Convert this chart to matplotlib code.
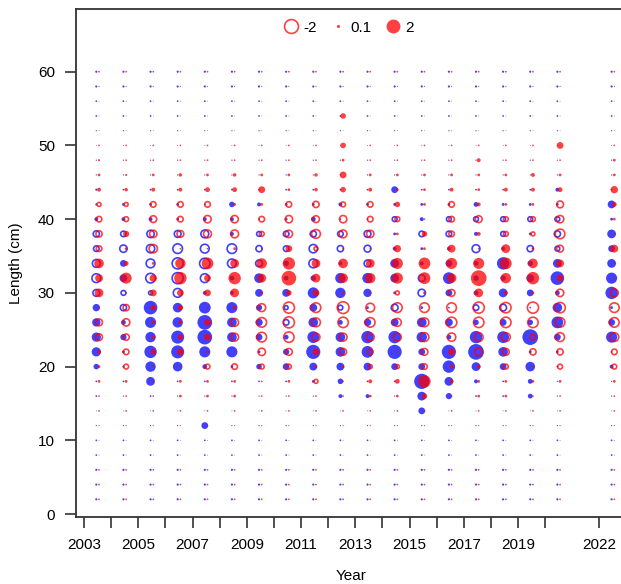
import numpy as np
import matplotlib
matplotlib.use("Agg")
import matplotlib.pyplot as plt
from matplotlib.lines import Line2D

plt.rcParams['font.family'] = ['Liberation Sans', 'DejaVu Sans']

# years with length comps (no 2021)
years = [2003, 2004, 2005, 2006, 2007, 2008, 2009, 2010, 2011, 2012,
         2013, 2014, 2015, 2016, 2017, 2018, 2019, 2020, 2022]
tick_labels = ['2003', '', '2005', '', '2007', '', '2009', '', '2011', '',
               '2013', '', '2015', '', '2017', '', '2019', '', '2022']

len_low = [2, 4, 6, 8, 10, 12, 14]
len_mid = [16, 18, 20, 22, 24, 26, 28, 30, 32, 34, 36, 38, 40, 42, 44, 46, 48]
len_high = [50, 52, 54, 56, 58, 60]

# near-zero residuals in the tails (same in every year)
male_low = [0.03, 0.03, 0.03, 0.02, 0.02, 0.01, 0.005]
female_low = [0.02, 0.02, 0.02, 0.005, 0.005, 0.01, 0.02]
male_high = [0.005, 0.01, 0.02, 0.02, 0.03, 0.03]
female_high = [0.02, 0.005, 0.005, 0.005, 0.01, 0.02]

# pearson residuals, lengths 16..48, one row per year
male_mid = [
    [0.02, 0.02, 0.2, 0.55, 0.55, 0.45, 0.35, -0.3, -0.5, -0.4, -0.2, -0.25, 0.1, 0.03, 0.03, 0.01, 0.01],
    [0.01, 0.02, 0.03, 0.05, 0.25, 0.15, -0.25, -0.15, 0.4, 0.3, -0.35, -0.2, 0.1, 0.05, 0.02, 0.01, 0.01],
    [0.02, 0.5, 0.7, 1.0, 0.7, 0.8, 1.2, -0.1, -0.6, -0.5, -0.45, -0.35, 0.1, 0.05, 0.02, 0.01, 0.01],
    [0.01, 0.02, 0.6, 1.1, 1.1, 0.7, 0.6, -0.5, -0.8, -0.8, -0.6, -0.3, 0.05, 0.05, 0.02, 0.01, 0.01],
    [0.01, 0.02, 0.15, 0.8, 1.4, 1.4, 0.9, 0.1, -0.5, -0.7, -0.5, -0.4, 0.1, 0.02, 0.02, 0.01, 0.01],
    [0.01, 0.02, 0.05, 0.8, 0.6, 0.6, 0.8, 0.1, 0.15, -0.5, -0.6, 0.1, 0.1, 0.2, 0.02, 0.01, 0.01],
    [0.01, 0.02, 0.2, 0.05, 0.3, 0.35, 0.25, 0.4, 0.6, -0.3, -0.25, -0.15, 0.02, 0.1, 0.02, 0.01, 0.01],
    [0.01, 0.02, 0.3, 0.25, 0.15, -0.2, -0.1, 0.4, 0.15, 0.2, -0.2, -0.2, 0.05, 0.05, 0.02, 0.01, 0.01],
    [0.01, 0.05, 0.4, 1.3, 0.9, 0.6, 0.4, 0.8, 0.2, -0.5, -0.45, -0.25, 0.15, 0.05, 0.02, 0.01, 0.01],
    [0.1, 0.2, 0.4, 0.6, 0.6, 0.15, -0.15, 0.7, 0.7, 0.1, -0.25, -0.2, 0.02, 0.1, 0.02, 0.01, 0.01],
    [0.1, 0.02, 0.4, 0.9, 1.0, 0.35, 0.05, 0.45, 0.7, -0.3, -0.3, -0.3, 0.02, 0.05, 0.02, 0.01, 0.01],
    [0.01, 0.02, 0.3, 1.3, 1.0, 0.4, -0.3, 0.05, 0.5, 0.5, 0.1, 0.05, -0.15, 0.05, 0.3, 0.01, 0.01],
    [0.5, 1.5, 0.3, 0.3, 0.7, 0.6, 0.05, -0.35, -0.3, 0.1, 0.05, -0.2, 0.1, 0.05, 0.02, 0.01, 0.01],
    [0.25, 0.5, 1.0, 1.3, 0.15, 0.4, 0.02, 0.3, 0.9, 0.3, 0.1, -0.2, -0.15, 0.05, 0.02, 0.01, 0.01],
    [0.02, 0.1, 0.5, 1.6, 1.0, 0.2, -0.2, 0.15, 0.2, 0.15, -0.4, 0.1, -0.15, 0.15, 0.02, 0.01, 0.01],
    [0.02, 0.02, 0.3, 0.6, 0.9, 0.3, -0.3, 0.5, 0.2, 1.0, 0.1, -0.15, -0.15, 0.05, 0.02, 0.01, 0.01],
    [0.15, 0.15, 0.6, 0.05, 1.6, 0.2, 0.02, 0.3, 0.4, 0.2, -0.25, 0.05, -0.15, 0.05, 0.02, 0.01, 0.01],
    [0.01, 0.01, 0.02, 0.05, 0.3, 0.9, 0.6, 0.15, 1.2, 0.5, -0.15, -0.25, -0.15, 0.05, 0.1, 0.01, 0.01],
    [0.01, 0.01, 0.1, 0.02, 0.8, 0.3, 0.05, 1.0, 0.8, 0.5, 0.3, 0.5, 0.05, 0.4, 0.02, 0.01, 0.01],
]
female_mid = [
    [0.02, 0.05, 0.05, 0.1, -0.3, -0.3, 0.02, 0.5, 0.4, 0.6, -0.2, -0.25, -0.2, -0.1, 0.1, 0.05, 0.03],
    [0.02, 0.05, -0.15, -0.2, -0.25, -0.35, -0.25, 0.02, 0.8, 0.15, 0.05, 0.25, -0.15, -0.1, 0.08, 0.03, 0.02],
    [0.02, 0.02, 0.02, 0.2, 0.1, 0.1, 0.2, 0.3, 0.35, 0.05, -0.45, -0.35, -0.3, -0.2, 0.1, 0.05, 0.02],
    [0.05, 0.05, 0.02, 0.3, 0.2, 0.1, 0.2, 0.3, 1.0, 0.7, 0.02, -0.3, -0.2, -0.2, 0.1, 0.08, 0.02],
    [0.05, 0.05, -0.15, 0.05, 0.3, 0.3, 0.02, 0.3, 0.3, 0.9, 0.02, -0.4, -0.35, -0.2, 0.15, 0.05, 0.02],
    [0.05, 0.05, -0.2, 0.02, -0.4, -0.4, 0.1, 0.5, 1.0, 0.5, 0.05, -0.4, -0.35, 0.05, 0.15, 0.08, 0.02],
    [0.02, 0.02, -0.15, -0.35, -0.6, -0.6, -0.4, 0.05, 0.5, 0.7, 0.02, -0.15, -0.2, 0.05, 0.3, 0.05, 0.02],
    [0.02, 0.05, -0.15, -0.3, -0.7, -0.8, -0.8, 0.2, 1.4, 1.0, 0.3, -0.35, -0.35, -0.2, 0.05, 0.05, 0.02],
    [0.02, -0.1, 0.05, 0.3, -0.4, -0.5, -0.6, 0.3, 0.5, 0.5, -0.1, -0.5, -0.3, -0.25, 0.08, 0.08, 0.02],
    [0.02, 0.02, 0.05, -0.3, -0.4, -0.7, -0.9, 0.05, 0.6, 0.6, 0.02, -0.4, -0.35, -0.15, 0.2, 0.3, 0.05],
    [0.05, 0.1, -0.1, -0.2, -0.4, -0.6, -0.5, 0.02, 0.7, 0.5, 0.02, -0.35, -0.2, -0.2, 0.1, 0.05, 0.02],
    [0.05, 0.15, -0.1, 0.02, -0.4, -0.4, -0.6, -0.1, 0.8, 0.8, 0.35, 0.05, -0.15, 0.2, 0.05, 0.05, 0.02],
    [0.2, 1.0, -0.2, -0.3, -0.5, -0.5, -0.6, 0.05, 0.9, 0.9, 0.05, 0.2, 0.02, 0.05, 0.05, 0.05, 0.02],
    [0.02, 0.1, 0.1, 0.3, -0.45, -0.7, -0.6, -0.3, 0.6, 0.8, 0.4, -0.2, -0.2, -0.2, 0.1, 0.05, 0.02],
    [0.05, 0.05, 0.1, -0.4, -0.5, -0.7, -0.8, 0.5, 1.6, 0.8, 0.02, 0.1, -0.3, 0.1, 0.05, 0.05, 0.1],
    [0.05, 0.05, -0.15, -0.3, -0.5, -0.7, -0.7, 0.1, 0.7, 0.9, 0.5, -0.15, -0.15, 0.05, 0.1, 0.05, 0.02],
    [0.02, 0.05, 0.02, -0.25, -0.2, -0.7, -0.8, 0.05, 1.0, 0.6, 0.05, -0.1, -0.15, 0.05, 0.1, 0.1, 0.02],
    [0.02, 0.05, -0.15, -0.25, -0.5, -0.6, -0.7, -0.35, 0.3, 0.4, -0.3, -0.6, -0.35, -0.3, 0.15, 0.05, 0.02],
    [0.02, 0.05, -0.15, -0.2, -0.5, -0.6, -0.6, -0.4, 0.02, 0.02, 0.4, 0.02, 0.05, 0.15, 0.35, 0.05, 0.05],
]

# odd single bubbles outside the main block: (year, length, sex, resid)
extra_points = [
    (2007, 12, 'M', 0.3),
    (2015, 14, 'M', 0.3),
    (2012, 50, 'F', 0.2),
    (2012, 54, 'F', 0.2),
    (2020, 50, 'F', 0.3),
]

lengths = len_low + len_mid + len_high
SIZE = 80      # marker area (pt^2) per unit |resid| in the panel
LEG_SIZE = 50  # legend bubbles


def collect(mid, low, high, sex, offset):
    X, Y, Z = [], [], []
    for i, yr in enumerate(years):
        vals = list(low + mid[i] + high)
        for (ey, el, es, ez) in extra_points:
            if ey == yr and es == sex:
                vals[lengths.index(el)] = ez
        for L, z in zip(lengths, vals):
            X.append(yr + offset)
            Y.append(L)
            Z.append(z)
    return np.array(X), np.array(Y), np.array(Z)


def bubbles(ax, X, Y, Z, color):
    s = SIZE * np.abs(Z)
    pos = Z >= 0
    ax.scatter(X[pos], Y[pos], s=s[pos], color=color, alpha=0.75, linewidths=0, zorder=3)
    ax.scatter(X[~pos], Y[~pos], s=s[~pos], facecolors='none', edgecolors=color,
               alpha=0.75, linewidths=1.2, zorder=3)


fig = plt.figure(figsize=(6.21, 5.84), dpi=100)
ax = fig.add_axes([0.1219, 0.1147, 0.887, 0.8693])

xm, ym, zm = collect(male_mid, male_low, male_high, 'M', 0.45)
xf, yf, zf = collect(female_mid, female_low, female_high, 'F', 0.55)
bubbles(ax, xm, ym, zm, '#0000ff')
bubbles(ax, xf, yf, zf, '#ff0000')

ax.set_xlim(2002.69, 2023.0)
ax.set_ylim(-0.4, 68.46)
ax.set_xticks(years)
ax.set_xticklabels(tick_labels)
ax.set_yticks([0, 10, 20, 30, 40, 50, 60])
ax.tick_params(direction='out', length=8, width=1.2, color='#333333',
               labelsize=11, pad=7)
for sp in ax.spines.values():
    sp.set_linewidth(1.3)
    sp.set_color('#333333')

ax.set_xlabel('Year', fontsize=11, labelpad=12)
ax.set_ylabel('Length (cm)', fontsize=11, labelpad=11)

leg_vals = [-2, 0.1, 2]
handles = []
for v in leg_vals:
    ms = np.sqrt(LEG_SIZE * abs(v))
    if v < 0:
        h = Line2D([], [], marker='o', linestyle='none', markersize=ms,
                   markerfacecolor='none', markeredgecolor='#ff0000', alpha=0.75, markeredgewidth=1.2)
    else:
        h = Line2D([], [], marker='o', linestyle='none', markersize=ms,
                   markerfacecolor='#ff0000', markeredgewidth=0, alpha=0.75)
    handles.append(h)
ax.legend(handles, [str(v) for v in leg_vals], loc='upper center', ncol=3,
          frameon=False, fontsize=11, handlelength=1.0, handletextpad=0.3,
          columnspacing=0.9, bbox_to_anchor=(0.495, 1.005))

fig.savefig('out.png', dpi=100)
